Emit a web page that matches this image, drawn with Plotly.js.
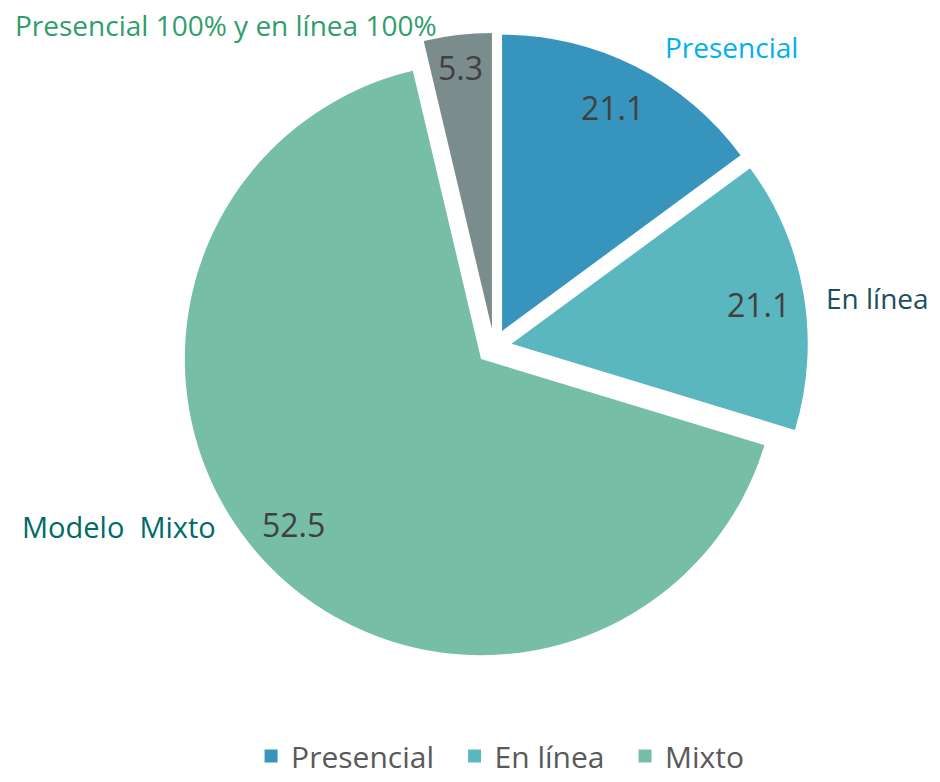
<!DOCTYPE html>
<html>
<head>
<meta charset="utf-8">
<script src="https://cdn.plot.ly/plotly-3.0.1.min.js"></script>
<style>html,body{margin:0;padding:0;background:#fff;}#chart{width:940px;height:782px;}</style>
</head>
<body>
<div id="chart"></div>
<script>
// Categories (slice order, clockwise from 12 o'clock)
const categories = ["Presencial", "En línea", "Mixto", "Presencial 100% y en línea 100%"];
// Printed data labels
const labelValues = [21.1, 21.1, 52.5, 5.3];
// Slice sizes as drawn (percent of the circle)
const sliceShares = [14.9, 14.8, 66.6, 3.7];
// Outer category label texts
const outerLabels = ["Presencial", "En línea", "Modelo  Mixto", "Presencial 100% y en línea 100%"];
// Legend entries
const legendNames = ["Presencial", "En línea", "Mixto"];

const colors = ["#3795BD", "#5AB6BF", "#77BEA6", "#7B8C8D"];
const outerColors = ["#00B0F0", "#1E4E5E", "#006B67", "#2F9E6B"];
const W = 940, H = 782;
const FONT = "Open Sans, DejaVu Sans, sans-serif";

const pie = {
  type: "pie",
  labels: categories,
  values: sliceShares,
  sort: false,
  direction: "clockwise",
  rotation: 0,
  pull: [0.06, 0.06, 0.06, 0.06],
  marker: {colors: colors, line: {width: 0}},
  textinfo: "none",
  hoverinfo: "skip",
  showlegend: false,
  domain: {x: [0.1894, 0.8617], y: [0.1496, 0.9578]}
};

const legendTraces = legendNames.map((n, i) => ({
  type: "scatter", mode: "markers", x: [null], y: [null],
  name: i < legendNames.length - 1 ? n + "\u00a0\u00a0" : n,
  marker: {symbol: "square", size: 13, color: colors[i]},
  hoverinfo: "skip", showlegend: true
}));

// label pixel centres (layout only)
const valuePos = [[612, 108], [758, 306], [293, 528], [460, 68]];
const outerPos = [[731, 47], [877, 300], [119, 530], [226, 25]];

const annotations = [];
labelValues.forEach((v, i) => {
  annotations.push({
    xref: "paper", yref: "paper", x: valuePos[i][0] / W, y: 1 - valuePos[i][1] / H,
    xanchor: "center", yanchor: "middle", showarrow: false,
    text: v.toFixed(1), font: {family: FONT, size: 32, color: "#404040"}
  });
});
outerLabels.forEach((t, i) => {
  annotations.push({
    xref: "paper", yref: "paper", x: outerPos[i][0] / W, y: 1 - outerPos[i][1] / H,
    xanchor: "center", yanchor: "middle", showarrow: false,
    text: t, font: {family: FONT, size: i === 2 ? 29 : 28, color: outerColors[i]}
  });
});

const layout = {
  width: W, height: H,
  margin: {l: 0, r: 0, t: 0, b: 0},
  paper_bgcolor: "#fff", plot_bgcolor: "#fff",
  xaxis: {visible: false}, yaxis: {visible: false},
  showlegend: true,
  legend: {
    orientation: "h", x: 0.532, xanchor: "center", y: 0.06, yanchor: "top",
    font: {family: FONT, size: 30, color: "#595959"},
    itemwidth: 30, traceorder: "normal", bgcolor: "rgba(0,0,0,0)"
  },
  annotations: annotations
};

Plotly.newPlot("chart", [pie].concat(legendTraces), layout, {displayModeBar: false, staticPlot: true});
</script>
</body>
</html>
